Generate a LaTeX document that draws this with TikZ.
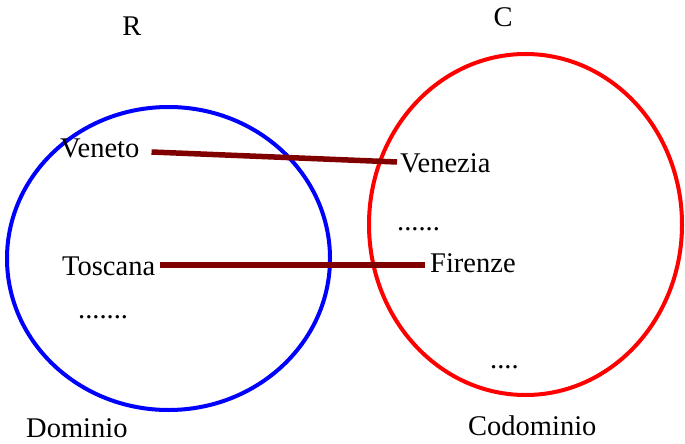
\documentclass[tikz,border=0pt]{standalone}
\usepackage{fontspec}
\setmainfont{Liberation Serif}
\definecolor{linkred}{HTML}{800000}
\definecolor{setblue}{HTML}{0000FF}
\definecolor{setred}{HTML}{FF0000}
\begin{document}
\begin{tikzpicture}[x=1pt,y=-1pt,
  lbl/.style={inner sep=0pt,anchor=base west,font=\fontsize{28.5}{32}\selectfont,text=black},
  link/.style={draw=linkred,line width=5.5pt},
  setline/.style={line width=4pt}]
\useasboundingbox (0,0) rectangle (685,444);
% sets
\draw[setline,draw=setblue] (168.5,258.5) ellipse [x radius=161.5,y radius=151.5];
\draw[setline,draw=setred] (525.5,224.5) ellipse [x radius=156.5,y radius=170.5];
% titles
\node[lbl,anchor=base] (R) at (132,36) {R};
\node[lbl,anchor=base] (C) at (503,27) {C};
\node[lbl] (dom) at (26,437) {Dominio};
\node[lbl] (cod) at (468,435) {Codominio};
% elements
\node[lbl] (veneto) at (60,157) {Veneto};
\node[lbl] (toscana) at (62,275) {Toscana};
\node[lbl] (ddom) at (78,318) {.......};
\node[lbl] (venezia) at (400,172) {Venezia};
\node[lbl] (dcod1) at (397,230) {......};
\node[lbl] (firenze) at (430,272) {Firenze};
\node[lbl] (dcod2) at (490,368) {....};
% links
\draw[link] ([shift={(12pt,5pt)}]veneto.base east) -- ([shift={(-3pt,10pt)}]venezia.base west);
\draw[link] ([shift={(5pt,10pt)}]toscana.base east) -- ([shift={(-5pt,7pt)}]firenze.base west);
\end{tikzpicture}
\end{document}
